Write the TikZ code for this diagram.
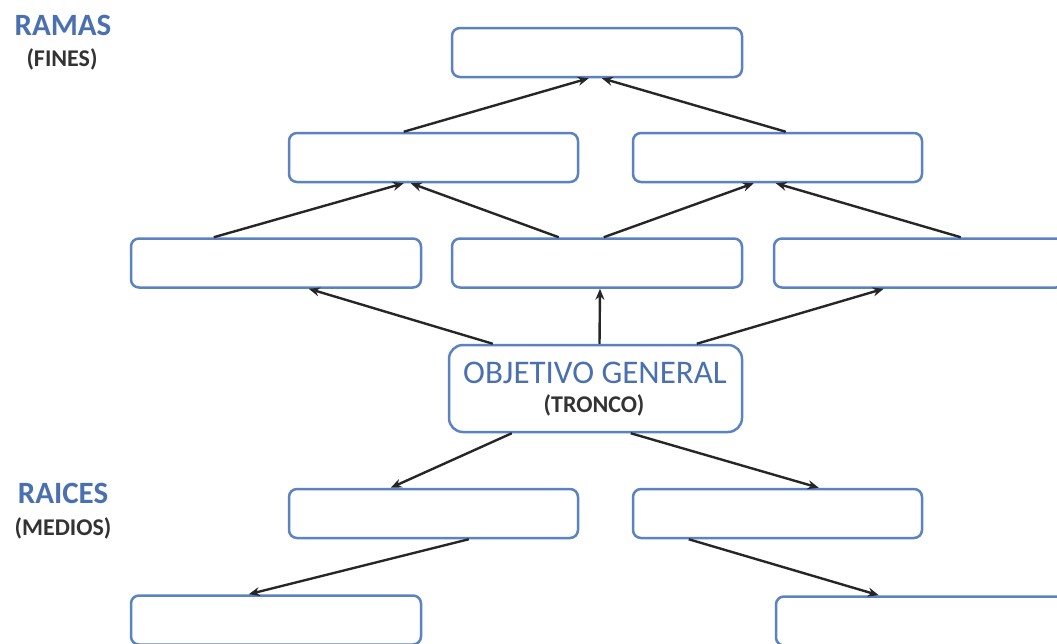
\documentclass[tikz,border=0pt]{standalone}
\usepackage{fontspec}
\setmainfont{Carlito}
\usetikzlibrary{arrows.meta}
\definecolor{boxblue}{HTML}{5B82C2}
\definecolor{txtblue}{HTML}{4A70B0}
\definecolor{txtgray}{HTML}{333333}
\tikzset{
  box/.style={draw=boxblue, line width=2.5pt, rounded corners=8pt, fill=white, minimum width=290pt, minimum height=49pt, inner sep=0pt},
  arr/.style={-{Stealth[length=11pt,width=9pt]}, line width=2.4pt, black!85},
  biglbl/.style={font=\bfseries\fontsize{31}{34}\selectfont, text=txtblue, inner sep=0pt},
  sublbl/.style={font=\bfseries\fontsize{24}{27}\selectfont, text=txtgray, inner sep=0pt}
}
\begin{document}
\begin{tikzpicture}[x=1pt,y=-1pt]
\useasboundingbox (0,0) rectangle (1057,643);
\clip (0,0) rectangle (1057,643);
% top
\node[box] (T) at (597,52.5) {};
% level 2
\node[box, minimum width=289pt] (L2a) at (433.5,157.5) {};
\node[box, minimum width=289pt] (L2b) at (777.5,157.5) {};
% level 3
\node[box] (L3a) at (276,263) {};
\node[box] (L3b) at (597,263) {};
\node[box] (L3c) at (919,263) {};
% centre
\node[box, minimum width=293pt, minimum height=87pt, rounded corners=14pt] (C) at (595.5,388.5) {};
\node[font=\fontsize{33}{36}\selectfont, text=txtblue, inner sep=0pt] (Ct) at (595,373) {OBJETIVO GENERAL};
\node[font=\bfseries\fontsize{24}{27}\selectfont, text=txtgray, inner sep=0pt] (Cs) at (594,405) {(TRONCO)};
% roots
\node[box, minimum width=289pt] (R1a) at (433.5,513.5) {};
\node[box, minimum width=289pt] (R1b) at (777.5,513.5) {};
\node[box] (R2a) at (276,620) {};
\node[box, minimum height=49pt] (R2b) at (921,621) {};
% side labels
\node[biglbl] (ramas) at (63,25) {RAMAS};
\node[sublbl] (fines) at (62,59) {(FINES)};
\node[biglbl] (raices) at (63,493) {RAICES};
\node[sublbl] (medios) at (63,528) {(MEDIOS)};
% arrows level 3 -> level 2
\draw[arr] ([xshift=84pt]L3a.north west) -- ([xshift=116pt]L2a.south west);
\draw[arr] ([xshift=108pt]L3b.north west) -- ([xshift=123pt]L2a.south west);
\draw[arr] ([xshift=153pt]L3b.north west) -- ([xshift=122pt]L2b.south west);
\draw[arr] ([xshift=188pt]L3c.north west) -- ([xshift=144pt]L2b.south west);
% level 2 -> top
\draw[arr] ([xshift=116pt]L2a.north west) -- ([xshift=138pt]T.south west);
\draw[arr] ([xshift=154pt]L2b.north west) -- ([xshift=151pt]T.south west);
% centre -> level 3
\draw[arr] ([xshift=45pt]C.north west) -- ([xshift=179pt]L3a.south west);
\draw[arr] ([xshift=4pt]C.north) -- ([xshift=3pt]L3b.south);
\draw[arr] ([xshift=249pt]C.north west) -- ([xshift=111pt]L3c.south west);
% centre -> roots
\draw[arr] ([xshift=64pt]C.south west) -- ([xshift=103pt]R1a.north west);
\draw[arr] ([xshift=183pt]C.south west) -- ([xshift=187pt]R1b.north west);
\draw[arr] ([xshift=181pt]R1a.south west) -- ([xshift=119pt]R2a.north west);
\draw[arr] ([xshift=57pt]R1b.south west) -- ([xshift=104pt]R2b.north west);
\end{tikzpicture}
\end{document}
